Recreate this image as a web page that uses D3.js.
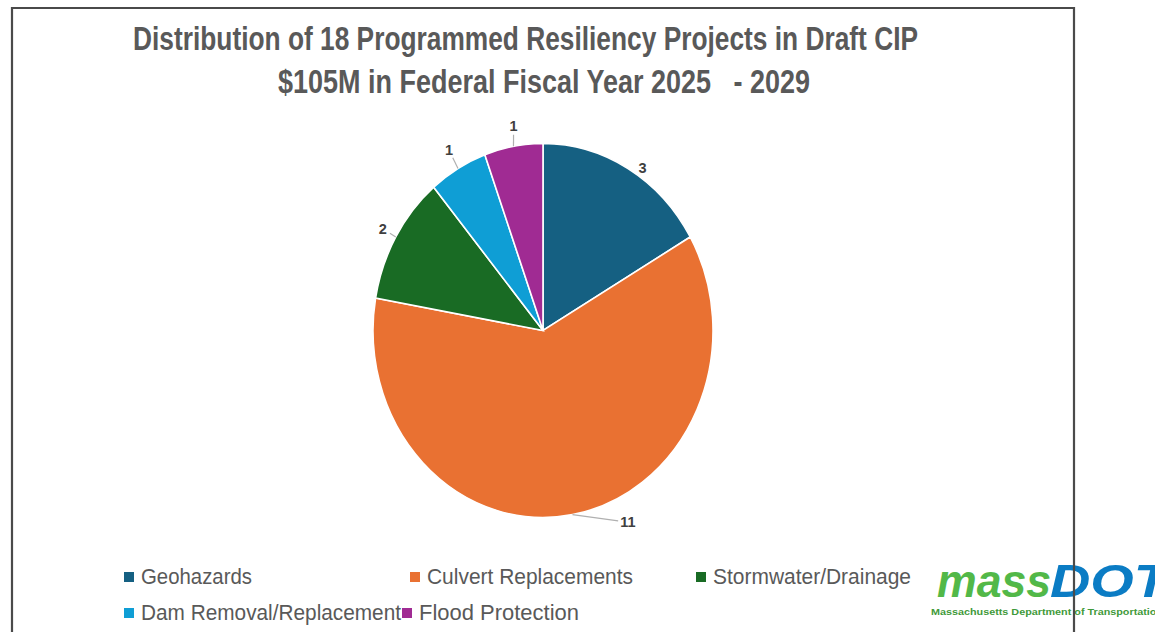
<!DOCTYPE html>
<html>
<head>
<meta charset="utf-8">
<script src="https://cdn.jsdelivr.net/npm/d3@7/dist/d3.min.js"></script>
<style>
  html, body { margin: 0; padding: 0; background: #ffffff; }
  svg { display: block; }
  text { white-space: pre; }
</style>
</head>
<body>
<svg id="chart" width="1155" height="632"></svg>
<script>
// Programmed resiliency projects by category
const categories = ["Geohazards", "Culvert Replacements", "Stormwater/Drainage", "Dam Removal/Replacement", "Flood Protection"];
const projectCounts = [3, 11, 2, 1, 1];
const sliceColors = ["#156082", "#E97132", "#196B24", "#0F9ED5", "#A02B93"];
const titleLines = ["Distribution of 18 Programmed Resiliency Projects in Draft CIP", "$105M in Federal Fiscal Year 2025   - 2029"];

const svg = d3.select("#chart");
const W = 1155, H = 632;

// title
const titleStyle = { size: 33, fill: "#595959" };
const titleLayout = [{ cx: 525.5, y: 50, len: 785 }, { cx: 544, y: 93, len: 532 }];
titleLines.forEach((t, i) => {
  svg.append("text")
    .attr("x", titleLayout[i].cx)
    .attr("y", titleLayout[i].y)
    .attr("text-anchor", "middle")
    .attr("font-family", "'Liberation Sans Narrow', 'Arial Narrow', sans-serif")
    .attr("font-weight", "bold")
    .attr("font-size", titleStyle.size)
    .attr("fill", titleStyle.fill)
    .attr("textLength", titleLayout[i].len)
    .attr("lengthAdjust", "spacingAndGlyphs")
    .text(t);
});

// pie (the slide stretches it slightly taller than wide)
const cx = 543, cy = 330.5, R = 170, yStretch = 1.1;
const pie = d3.pie().sort(null).value(d => d)(projectCounts);
const arc = d3.arc().innerRadius(0).outerRadius(R);

const g = svg.append("g").attr("transform", `translate(${cx},${cy}) scale(1,${yStretch})`);
g.selectAll("path.slice")
  .data(pie)
  .join("path")
  .attr("class", "slice")
  .attr("d", arc)
  .attr("fill", (d, i) => sliceColors[i])
  .attr("stroke", "#ffffff")
  .attr("stroke-width", 1.6)
  .attr("vector-effect", "non-scaling-stroke");

// data labels placed around the rim, leader lines where the label sits away from the slice
const toScreen = (angle, r) => [cx + r * Math.sin(angle), cy - r * Math.cos(angle) * yStretch];
const deg = Math.PI / 180;
const labelPlacement = [
  { angle: 34, r: 178, leader: false },
  { angle: 154, r: 194, leader: true },
  { angle: 300, r: 185, leader: true },
  { angle: 330.2, r: 189, leader: true },
  { angle: 351, r: 188, leader: true }
];

pie.forEach((d, i) => {
  const p = labelPlacement[i];
  const [lx, ly] = toScreen(p.angle * deg, p.r);
  if (p.leader) {
    const mid = (d.startAngle + d.endAngle) / 2;
    const [ax, ay] = toScreen(mid, R);
    const dx = lx - ax, dy = ly - ay, len = Math.hypot(dx, dy);
    const gap = d.value >= 10 ? 10 : 8.5;
    svg.append("line")
      .attr("x1", ax).attr("y1", ay)
      .attr("x2", lx - dx / len * gap).attr("y2", ly - dy / len * gap)
      .attr("stroke", "#b0b0b0")
      .attr("stroke-width", 1.2);
  }
  svg.append("text")
    .attr("x", lx)
    .attr("y", ly)
    .attr("text-anchor", "middle")
    .attr("dominant-baseline", "central")
    .attr("font-family", "'Liberation Sans', Arial, sans-serif")
    .attr("font-weight", "bold")
    .attr("font-size", 14.5)
    .attr("fill", "#404040")
    .text(d.value);
});

// legend: first row on fixed columns, second row flows after the previous entry
const legendFont = { family: "'Liberation Sans Narrow', 'Arial Narrow', sans-serif", size: 21.5, fill: "#595959" };
const legendRows = [[0, 1, 2], [3, 4]];
const rowY = [577, 613];
const colStart = 124, colStep = 286, box = 10, boxGap = 7;
const legendTextWidth = [111, 206, 198, 260, 160];
legendRows.forEach((row, r) => {
  let x = colStart;
  row.forEach((idx, k) => {
    if (r === 0) x = colStart + k * colStep;
    svg.append("rect")
      .attr("x", x).attr("y", rowY[r] - box / 2)
      .attr("width", box).attr("height", box)
      .attr("fill", sliceColors[idx]);
    svg.append("text")
      .attr("x", x + box + boxGap)
      .attr("y", rowY[r])
      .attr("dominant-baseline", "central")
      .attr("font-family", legendFont.family)
      .attr("font-size", legendFont.size)
      .attr("fill", legendFont.fill)
      .attr("textLength", legendTextWidth[idx])
      .attr("lengthAdjust", "spacingAndGlyphs")
      .text(categories[idx]);
    x = x + box + boxGap + legendTextWidth[idx] + 1;
  });
});

// agency logo
const logo = svg.append("g");
logo.append("text")
  .attr("x", 937).attr("y", 597)
  .attr("font-family", "'Liberation Sans', Arial, sans-serif")
  .attr("font-weight", "bold").attr("font-style", "italic")
  .attr("font-size", 46)
  .attr("fill", "#52b848")
  .attr("textLength", 114).attr("lengthAdjust", "spacingAndGlyphs")
  .text("mass");
logo.append("text")
  .attr("x", 1050).attr("y", 597)
  .attr("font-family", "'Liberation Sans', Arial, sans-serif")
  .attr("font-weight", "bold").attr("font-style", "italic")
  .attr("font-size", 46)
  .attr("fill", "#0b7cc4")
  .attr("textLength", 118).attr("lengthAdjust", "spacingAndGlyphs")
  .text("DOT");
logo.append("text")
  .attr("x", 931).attr("y", 615)
  .attr("font-family", "'Liberation Sans', Arial, sans-serif")
  .attr("font-weight", "bold")
  .attr("font-size", 9)
  .attr("fill", "#3f9a3a")
  .attr("textLength", 232).attr("lengthAdjust", "spacingAndGlyphs")
  .text("Massachusetts Department of Transportation");

// slide frame, drawn over the logo
svg.append("path")
  .attr("d", `M12,${H + 5} L12,8 L1074,8 L1074,${H + 5}`)
  .attr("fill", "none")
  .attr("stroke", "#4a4a4a")
  .attr("stroke-width", 2.2);
</script>
</body>
</html>
